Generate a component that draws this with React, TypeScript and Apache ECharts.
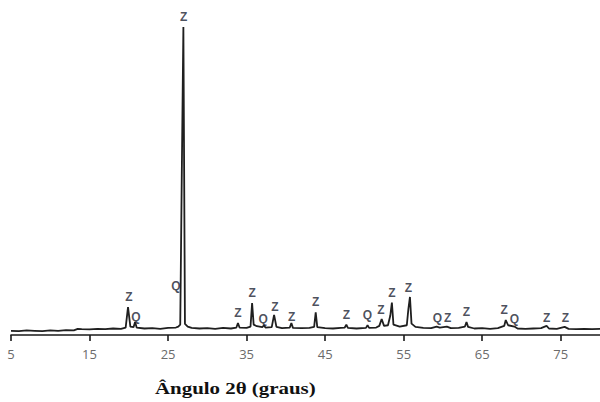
import React, { useEffect, useRef } from "react";
import * as echarts from "echarts";

// Diffractogram: 2θ (degrees) and relative intensity (arbitrary units)
const twoTheta: number[] = [
  5, 6, 7, 8, 9, 10, 11, 12, 13, 13.5, 14, 15, 16, 17, 18, 19, 19.6, 19.9, 20.2, 20.6, 20.8, 21.0,
  22, 23, 24, 25, 26, 26.3, 26.55, 26.75, 26.95, 27.15, 27.5, 28, 29, 30, 31, 32, 33, 33.7, 33.9, 34.1,
  35, 35.5, 35.7, 35.9, 36.3, 37, 37.2, 37.4, 38.2, 38.5, 38.8, 39.5, 40.5, 40.7, 40.9, 42, 43, 43.6,
  43.8, 44.0, 45, 46, 47, 47.5, 47.7, 47.9, 49, 50.2, 50.4, 50.6, 51.5, 51.9, 52.2, 52.5, 53.0, 53.3,
  53.5, 53.7, 54.5, 55.4, 55.6, 55.8, 56.0, 56.5, 57.5, 58.5, 59.2, 59.6, 60.5, 61, 62, 62.8, 63.0,
  63.2, 64, 65, 66, 67, 67.8, 68.0, 68.3, 69.1, 69.5, 70.5, 71.5, 72.5, 73.2, 73.5, 74.5, 75.5, 76,
  77, 78, 79, 80,
];
const intensity: number[] = [
  1.3, 1.2, 1.4, 1.3, 1.2, 1.4, 1.3, 1.5, 1.4, 1.9, 1.8, 1.7, 1.9, 1.8, 2.0, 1.9, 2.3, 8.6, 2.6, 2.4, 4.0, 2.3,
  2.0, 2.1, 1.9, 2.2, 2.3, 2.6, 3.2, 50, 94.8, 3.4, 2.6, 2.2, 2.0, 2.1, 1.9, 2.2, 2.0, 2.3, 3.7, 2.3,
  2.2, 2.6, 9.8, 3.2, 2.7, 2.4, 3.0, 2.3, 2.4, 6.2, 2.5, 2.1, 2.3, 3.7, 2.2, 2.1, 2.2, 2.5,
  7, 2.4, 2.1, 2.0, 2.2, 2.3, 3.2, 2.2, 2.0, 2.2, 3.0, 2.2, 2.3, 2.8, 4.9, 2.8, 3.0, 6,
  10, 3.2, 2.6, 3.0, 8, 11.7, 3.5, 2.5, 2.2, 2.1, 2.6, 2.3, 2.6, 2.1, 2.2, 2.6, 4,
  2.5, 2.0, 2.1, 1.9, 2.1, 2.8, 4.6, 3.0, 2.6, 2.0, 1.9, 2.0, 2.1, 2.8, 2.0, 1.9, 2.5, 1.9,
  1.8, 1.9, 1.8, 1.9,
];

// Phase annotations: Z / Q, at 2θ and label height (same intensity units)
const phaseLabels: string[] = [
  "Z", "Q", "Q", "Z", "Z", "Z", "Q", "Z", "Z", "Z", "Z", "Q", "Z", "Z", "Z", "Q", "Z", "Z", "Z", "Q", "Z", "Z",
];
const phaseTheta: number[] = [
  20.0, 20.9, 26.0, 27.0, 33.9, 35.7, 37.1, 38.6, 40.75, 43.8, 47.7, 50.4, 52.1, 53.5, 55.6, 59.3, 60.6,
  63.0, 67.8, 69.1, 73.2, 75.6,
];
const phaseHeight: number[] = [
  11.7, 5.5, 15.2, 97.8, 6.8, 12.9, 4.9, 8.6, 5.5, 10.2, 6.2, 6.2, 7.7, 12.9, 14.5, 5.2, 5.2, 7.1, 7.7,
  4.9, 5.2, 5.2,
];

const xMin = 5;
const xMax = 80;
const xInterval = 10;
const axisTitle = "Ângulo 2θ (graus)";

export default function App() {
  const ref = useRef<HTMLDivElement>(null);

  useEffect(() => {
    if (!ref.current) return;
    const chart = echarts.init(ref.current, undefined, { renderer: "svg" });
    const lineData = twoTheta.map((t, i) => [t, intensity[i]]);
    const labelData = phaseTheta.map((t, i) => ({
      value: [t, phaseHeight[i]],
      label: { formatter: phaseLabels[i] },
    }));
    chart.setOption({
      animation: false,
      backgroundColor: "#ffffff",
      grid: { left: 11, right: 0, top: 10, bottom: 67 },
      xAxis: {
        type: "value",
        min: xMin,
        max: xMax,
        interval: xInterval,
        splitLine: { show: false },
        axisLine: { show: true, onZero: false, lineStyle: { color: "#1a1a1a", width: 1.6 } },
        axisTick: { show: true, inside: false, length: 6, lineStyle: { color: "#1a1a1a", width: 1.6 } },
        axisLabel: {
          color: "#6b6b6b",
          fontSize: 13,
          margin: 12,
          fontFamily: "Open Sans",
          showMaxLabel: false,
        },
      },
      yAxis: {
        type: "value",
        min: 0,
        max: 100,
        show: false,
        splitLine: { show: false },
      },
      series: [
        {
          type: "line",
          data: lineData,
          symbol: "none",
          lineStyle: { color: "#1f1f1f", width: 1.8 },
          z: 2,
        },
        {
          type: "scatter",
          data: labelData,
          symbolSize: 0,
          silent: true,
          label: {
            show: true,
            position: "inside",
            color: "#1c2333",
            fontSize: 12,
            fontWeight: "bold",
            fontFamily: "Liberation Sans",
          },
          z: 3,
        },
      ],
      graphic: [
        {
          type: "text",
          x: 155,
          y: 380,
          scaleX: 1.23,
          style: {
            text: axisTitle,
            font: "bold 17px 'Liberation Serif'",
            fill: "#111111",
          },
        },
      ],
    });
    return () => chart.dispose();
  }, []);

  return (
    <div
      ref={ref}
      style={{ position: "fixed", left: 0, top: 0, width: 600, height: 402, background: "#fff" }}
    />
  );
}
